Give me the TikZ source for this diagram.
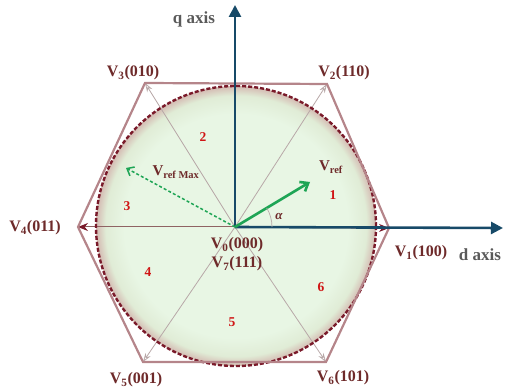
\documentclass[tikz,border=0pt]{standalone}
\usepackage{fontspec}
\setmainfont{Liberation Serif}
\usetikzlibrary{arrows.meta}
\definecolor{axiscol}{HTML}{174A68}
\definecolor{labcol}{HTML}{6E2A2A}
\definecolor{hexcol}{HTML}{B5858A}
\definecolor{spokecol}{HTML}{B8A8A8}
\definecolor{darkred}{HTML}{7A1A2A}
\definecolor{greenvec}{HTML}{1EA555}
\definecolor{graytxt}{HTML}{5A5A5A}
\definecolor{secred}{HTML}{D01515}
\definecolor{fillin}{RGB}{232,246,228}
\definecolor{fillmid}{RGB}{224,236,214}
\definecolor{filledge}{RGB}{212,186,178}
\pgfdeclareradialshading{circfill}{\pgfpoint{0bp}{0bp}}{color(0bp)=(fillin); color(20bp)=(fillin); color(23.3bp)=(fillmid); color(25bp)=(filledge); color(50bp)=(filledge)}
\tikzset{
  vlab/.style={text=labcol, font=\fontsize{16}{18}\selectfont\bfseries, inner sep=0pt},
  seclab/.style={text=secred, font=\fontsize{13.5}{15}\selectfont\bfseries, inner sep=0pt},
  axlab/.style={text=graytxt, font=\fontsize{17}{19}\selectfont\bfseries, inner sep=0pt},
  spoke/.style={spokecol, line width=0.8pt, -{Stealth[length=9pt,width=6pt,open,fill=white]}},
  axisline/.style={axiscol, line width=2.6pt, -{Triangle[length=12pt,width=12pt]}},
}
\begin{document}
\begin{tikzpicture}[x=1pt,y=-1pt]
\useasboundingbox (0,0) rectangle (507,390);
\coordinate (O) at (235,227);
\coordinate (v1) at (389,228);
\coordinate (v2) at (327,84);
\coordinate (v3) at (145,83);
\coordinate (v4) at (78,227);
\coordinate (v5) at (143,362);
\coordinate (v6) at (326,362);
\coordinate (ctr) at (236,226);
% circle fill
\shade[shading=circfill] (ctr) circle[radius=140];
% spokes
\foreach \v in {v2,v3,v5,v6}{
  \draw[spoke] (O) -- (\v);
}
\draw[line width=1pt, draw=labcol!55!spokecol, -{Stealth[length=10pt,width=8pt,color=darkred]}] (O) -- (v4);
\draw[line width=1pt, darkred, -{Stealth[length=10pt,width=8pt]}] (O) -- (v1);
% dashed circle
\draw[darkred, line width=2.4pt, dash pattern=on 4pt off 2pt] (ctr) circle[radius=140];
% hexagon
\draw[hexcol, line width=2.2pt, line join=miter] (v1) -- (v2) -- (v3) -- (v4) -- (v5) -- (v6) -- cycle;
% axes
\coordinate (qend) at (235,5);
\coordinate (dend) at (503,228);
\draw[axisline] (O) -- (qend);
\draw[axisline] (O) -- (dend);
% vectors
\coordinate (vref) at (310,182);
\coordinate (vmax) at (126,168);
\draw[greenvec, line width=2.6pt, -{Straight Barb[length=7pt,width=11pt]}] (O) -- (vref);
\draw[greenvec, line width=1.5pt, dash pattern=on 3pt off 2.2pt, -{Straight Barb[length=6pt,width=10pt]}] (O) -- (vmax);
% alpha arc
\draw[spokecol, line width=0.7pt] ([xshift=37pt]O) arc[start angle=0, end angle=-31, radius=37];
% labels
\node[vlab] (l1) at (421,253) {V\textsubscript{1}(100)};
\node[vlab] (l2) at (344,73) {V\textsubscript{2}(110)};
\node[vlab] (l3) at (133,73) {V\textsubscript{3}(010)};
\node[vlab] (l4) at (35,228) {V\textsubscript{4}(011)};
\node[vlab] (l5) at (136,380) {V\textsubscript{5}(001)};
\node[vlab] (l6) at (343,378) {V\textsubscript{6}(101)};
\node[vlab] (l0) at (237,245) {V\textsubscript{0}(000)};
\node[vlab] (l7) at (237,264) {V\textsubscript{7}(111)};
\node[axlab] (qa) at (194,19) {q axis};
\node[axlab] (da) at (480,255) {d axis};
\node[vlab, font=\fontsize{15}{17}\selectfont\bfseries] (vrl) at (331,167) {V\textsubscript{ref}};
\node[vlab, font=\fontsize{15}{17}\selectfont\bfseries] (vml) at (176,172) {V\textsubscript{ref Max}};
\node[text=labcol, font=\fontsize{13}{15}\selectfont\bfseries\itshape, inner sep=0pt] (al) at (279,217) {α};
\node[seclab] (s1) at (333,195) {1};
\node[seclab] (s2) at (203,137) {2};
\node[seclab] (s3) at (127,206) {3};
\node[seclab] (s4) at (148,272) {4};
\node[seclab] (s5) at (232,322) {5};
\node[seclab] (s6) at (321,287) {6};
\end{tikzpicture}
\end{document}
